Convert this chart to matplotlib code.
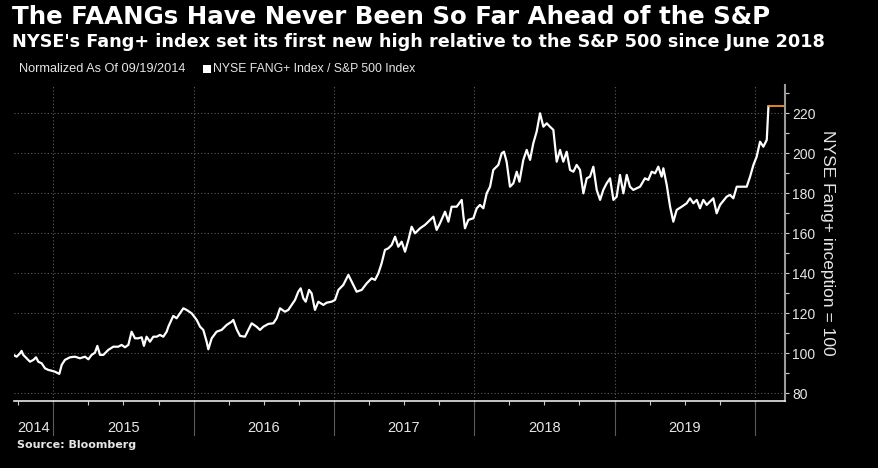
import matplotlib
matplotlib.use("Agg")
import matplotlib.pyplot as plt
import matplotlib.transforms as mtransforms
import numpy as np

# ---- data (decimal year, index value normalized to 100 on 09/19/2014) ----
years = [
    2014.715, 2014.739, 2014.763, 2014.774, 2014.786, 2014.810, 2014.834, 2014.858, 2014.877, 2014.893,
    2014.917, 2014.941, 2014.964, 2014.988, 2015.012, 2015.043, 2015.060, 2015.083, 2015.119, 2015.155,
    2015.190, 2015.226, 2015.250, 2015.273, 2015.297, 2015.314, 2015.333, 2015.357, 2015.392, 2015.428,
    2015.463, 2015.487, 2015.511, 2015.535, 2015.558, 2015.582, 2015.606, 2015.630, 2015.646, 2015.665,
    2015.689, 2015.713, 2015.737, 2015.760, 2015.784, 2015.808, 2015.820, 2015.855, 2015.879, 2015.903,
    2015.927, 2015.950, 2015.986, 2016.022, 2016.046, 2016.069, 2016.093, 2016.105, 2016.129, 2016.164,
    2016.200, 2016.236, 2016.271, 2016.283, 2016.307, 2016.331, 2016.366, 2016.390, 2016.414, 2016.449,
    2016.473, 2016.497, 2016.533, 2016.568, 2016.592, 2016.616, 2016.651, 2016.675, 2016.699, 2016.723,
    2016.746, 2016.763, 2016.782, 2016.799, 2016.823, 2016.841, 2016.865, 2016.889, 2016.925, 2016.948,
    2016.984, 2017.008, 2017.032, 2017.067, 2017.103, 2017.127, 2017.162, 2017.198, 2017.234, 2017.269,
    2017.293, 2017.317, 2017.340, 2017.364, 2017.388, 2017.412, 2017.436, 2017.459, 2017.483, 2017.507,
    2017.531, 2017.554, 2017.578, 2017.614, 2017.649, 2017.673, 2017.709, 2017.732, 2017.756, 2017.792,
    2017.816, 2017.839, 2017.875, 2017.911, 2017.922, 2017.934, 2017.958, 2017.994, 2018.018, 2018.041,
    2018.065, 2018.089, 2018.113, 2018.136, 2018.172, 2018.196, 2018.212, 2018.231, 2018.255, 2018.279,
    2018.303, 2018.322, 2018.350, 2018.374, 2018.398, 2018.421, 2018.445, 2018.469, 2018.493, 2018.517,
    2018.540, 2018.564, 2018.588, 2018.612, 2018.635, 2018.659, 2018.683, 2018.707, 2018.730, 2018.754,
    2018.778, 2018.802, 2018.825, 2018.849, 2018.873, 2018.897, 2018.920, 2018.944, 2018.968, 2018.992,
    2019.015, 2019.039, 2019.063, 2019.087, 2019.110, 2019.134, 2019.158, 2019.182, 2019.217, 2019.241,
    2019.265, 2019.289, 2019.312, 2019.336, 2019.348, 2019.372, 2019.396, 2019.419, 2019.443, 2019.479,
    2019.514, 2019.538, 2019.562, 2019.586, 2019.609, 2019.633, 2019.657, 2019.704, 2019.728, 2019.752,
    2019.799, 2019.823, 2019.847, 2019.871, 2019.906, 2019.942, 2019.966, 2019.990, 2020.013, 2020.037,
    2020.061, 2020.085, 2020.097,
]
values = [
    99.2, 98.3, 100.0, 101.2, 99.2, 97.5, 95.8, 96.7, 98.0, 95.8,
    95.0, 92.5, 91.7, 91.3, 90.8, 89.7, 94.2, 96.7, 98.0, 98.3,
    97.5, 98.3, 97.0, 99.2, 100.3, 103.7, 99.2, 99.2, 101.7, 103.3,
    103.3, 104.2, 103.0, 104.2, 110.8, 107.5, 107.5, 108.0, 103.7, 108.3,
    105.8, 108.3, 108.3, 109.2, 108.3, 110.8, 113.3, 118.7, 117.5, 120.0,
    122.5, 121.7, 120.0, 116.7, 113.3, 111.7, 105.8, 102.0, 107.5, 110.8,
    111.7, 114.2, 115.8, 116.7, 112.0, 108.7, 108.3, 111.7, 115.0, 113.3,
    111.7, 113.3, 114.7, 115.0, 117.5, 122.5, 120.8, 121.7, 124.2, 126.7,
    130.8, 132.5, 127.5, 125.8, 131.7, 130.0, 121.7, 125.8, 124.2, 125.3,
    125.8, 126.7, 131.7, 134.2, 139.2, 135.8, 130.8, 131.7, 135.0, 137.5,
    136.7, 140.0, 145.0, 151.7, 152.5, 154.2, 158.3, 153.3, 155.8, 150.8,
    156.7, 163.3, 160.0, 162.5, 164.2, 165.8, 168.3, 161.7, 165.0, 170.8,
    165.8, 173.3, 173.3, 176.7, 169.2, 162.5, 166.7, 167.5, 172.5, 174.2,
    172.5, 180.0, 183.3, 191.7, 194.2, 200.0, 200.8, 195.8, 183.3, 185.0,
    190.8, 185.8, 196.7, 201.7, 196.7, 205.0, 210.8, 220.0, 213.3, 215.0,
    213.3, 211.7, 195.8, 201.7, 195.8, 200.8, 191.7, 190.8, 194.2, 191.7,
    180.0, 187.5, 188.3, 193.3, 181.7, 176.7, 181.7, 185.0, 187.5, 176.7,
    178.3, 189.2, 180.0, 189.2, 183.3, 181.7, 182.5, 183.3, 187.5, 186.7,
    190.8, 190.0, 193.3, 188.3, 192.5, 184.2, 173.3, 165.8, 171.7, 173.3,
    175.0, 177.5, 175.0, 176.7, 172.5, 176.7, 174.2, 177.5, 170.0, 174.2,
    178.3, 179.2, 177.5, 183.3, 183.3, 183.3, 188.3, 194.2, 198.3, 205.8,
    203.3, 206.7, 223.5,
]
year_labels = ["2014", "2015", "2016", "2017", "2018", "2019"]
year_label_pos = [2014.86, 2015.5, 2016.5, 2017.5, 2018.5, 2019.5]
year_starts = [2015, 2016, 2017, 2018, 2019, 2020]
y_major = [80, 100, 120, 140, 160, 180, 200, 220]
y_minor = [90, 110, 130, 150, 170, 190, 210, 230]

title = "The FAANGs Have Never Been So Far Ahead of the S&P"
subtitle = "NYSE's Fang+ index set its first new high relative to the S&P 500 since June 2018"
note = "Normalized As Of 09/19/2014"
series_name = "NYSE FANG+ Index / S&P 500 Index"
ylabel = "NYSE Fang+ inception = 100"
source = "Source: Bloomberg"

# ---- figure ----
W, H = 879, 468
fig = plt.figure(figsize=(W / 100, H / 100), dpi=100, facecolor="black")
ax = fig.add_axes([14 / W, 1 - 401 / H, (785 - 14) / W, (401 - 85) / H])
ax.set_facecolor("black")

xmin, xmax = 2014.720, 2020.215
ax.set_xlim(xmin, xmax)
ax.set_ylim(76.15, 234.15)

ax.plot(years, values, color="white", lw=1.6, solid_joinstyle="round", zorder=3)
ax.hlines(values[-1], years[-1], xmax, color="#f5901e", lw=1.3, zorder=3)

# grid
for v in y_major:
    ax.axhline(v, color="#5a5a5a", lw=0.8, ls=(0, (1, 2)), zorder=1)
for ys in year_starts:
    ax.axvline(ys, color="#5a5a5a", lw=0.8, ls=(0, (1, 2)), zorder=1)
    ax.axvline(ys, ymin=-0.108, ymax=0, color="#5a5a5a", lw=0.8, clip_on=False)

# spines
for s in ["top", "left"]:
    ax.spines[s].set_visible(False)
ax.spines["bottom"].set_color("#e8e8e8")
ax.spines["bottom"].set_linewidth(1.2)
ax.spines["right"].set_color("#9a9a9a")
ax.spines["right"].set_linewidth(1.5)

# x ticks: quarterly marks, no labels
qticks = [2014.75] + [y + q for y in range(2015, 2020) for q in (0, 0.25, 0.5, 0.75)] + [2020.0]
ax.set_xticks(qticks)
ax.set_xticklabels([])
ax.tick_params(axis="x", direction="out", length=3, width=0.8, color="#cfcfcf")

# y ticks on right
ax.yaxis.tick_right()
ax.set_yticks(y_major)
ax.set_yticks(y_minor, minor=True)
ax.tick_params(axis="y", which="both", direction="out", length=3, width=0.8,
               color="#cfcfcf", labelcolor="#e6e6e6", labelsize=10, pad=2)
for lab in ax.get_yticklabels():
    lab.set_fontfamily("Liberation Sans")
ax.yaxis.set_label_position("right")
ax.set_ylabel(ylabel, rotation=-90, color="#e6e6e6", fontsize=12.5,
              fontfamily="Liberation Sans", labelpad=3, va="bottom")

# year labels
trans = mtransforms.blended_transform_factory(ax.transData, ax.transAxes)
for lab, pos in zip(year_labels, year_label_pos):
    ax.text(pos, -0.085, lab, transform=trans, ha="center", va="center",
            color="#e6e6e6", fontsize=10.5, fontfamily="Liberation Sans")

# titles
fig.text(12 / W, 1 - 17 / H, title, color="white", fontsize=17.65, fontweight="bold",
         fontfamily="DejaVu Sans", ha="left", va="center")
fig.text(12 / W, 1 - 42 / H, subtitle, color="white", fontsize=12.7, fontweight="bold",
         fontfamily="DejaVu Sans", ha="left", va="center")
fig.text(19 / W, 1 - 69 / H, note, color="#e6e6e6", fontsize=9.2,
         fontfamily="Liberation Sans", ha="left", va="center")
fig.patches.append(plt.Rectangle((203 / W, 1 - 73 / H), 8 / W, 8 / H, transform=fig.transFigure,
                                 facecolor="white", edgecolor="none"))
fig.text(213 / W, 1 - 69 / H, series_name, color="#e6e6e6", fontsize=8.8,
         fontfamily="Liberation Sans", ha="left", va="center")
fig.text(17 / W, 1 - 445 / H, source, color="#e6e6e6", fontsize=8, fontweight="bold",
         fontfamily="DejaVu Sans", ha="left", va="center")

fig.savefig("out.png", dpi=100, facecolor="black")
